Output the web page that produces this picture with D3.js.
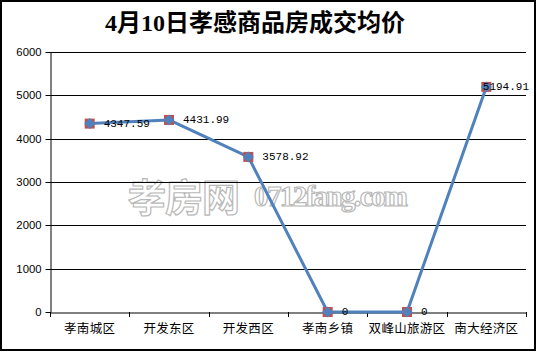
<!DOCTYPE html>
<html><head><meta charset="utf-8">
<script src="https://cdn.jsdelivr.net/npm/d3@7"></script>
<style>body{margin:0;background:#fff}svg{display:block}</style>
</head><body>
<svg id="c" width="537" height="352"></svg>
<script>
const title = "4月10日孝感商品房成交均价";
const categories = ["孝南城区","开发东区","开发西区","孝南乡镇","双峰山旅游区","南大经济区"];
const values = [4347.59, 4431.99, 3578.92, 0, 0, 5194.91];
const labels = ["4347.59","4431.99","3578.92","0","0","5194.91"];
const yTicks = [0,1000,2000,3000,4000,5000,6000];

const svg = d3.select("#c");
const W = 537, H = 352;
const m = {l:50, r:526, t:52, b:312};

svg.append("rect").attr("x",1).attr("y",1).attr("width",534).attr("height",349)
  .attr("fill","#fff").attr("stroke","#000").attr("stroke-width",2);

svg.append("text").attr("x",255).attr("y",31).attr("text-anchor","middle")
  .attr("font-family","'Liberation Serif','Noto Sans CJK SC',serif")
  .attr("font-weight","bold").attr("font-size",24).attr("fill","#000").text(title);

const x = d3.scaleBand().domain(categories).range([m.l, m.r]);
const y = d3.scaleLinear().domain([0,6000]).range([m.b, m.t]);

// watermark
const wm = svg.append("g").attr("fill","#fff").attr("stroke","#b8b8b8").attr("stroke-width",1.2);
wm.append("text").attr("x",128).attr("y",211).attr("font-family","'Noto Sans CJK SC',sans-serif")
  .attr("font-weight","bold").attr("font-size",38).attr("letter-spacing",-1).text("孝房网");
wm.append("text").attr("x",254).attr("y",206).attr("font-family","'Liberation Serif',serif")
  .attr("font-weight","bold").attr("font-size",29).attr("textLength",154).text("0712fang.com");

// grid
svg.append("g").selectAll("line").data(yTicks.filter(d=>d>0)).join("line")
  .attr("x1",m.l).attr("x2",m.r).attr("y1",d=>Math.round(y(d))+0.5).attr("y2",d=>Math.round(y(d))+0.5)
  .attr("stroke","#000").attr("stroke-width",1);

// y axis
const ya = svg.append("g").attr("transform",`translate(${m.l+0.5},0)`)
  .call(d3.axisLeft(y).tickValues(yTicks).tickSize(5).tickSizeOuter(0).tickPadding(4).tickFormat(d3.format("d")));
ya.select(".domain").attr("stroke","#000");
ya.selectAll(".tick line").attr("stroke","#000");
ya.selectAll(".tick").attr("transform",d=>`translate(0,${Math.round(y(d))+0.5})`);
ya.selectAll("text").attr("font-family","'Liberation Sans',Arial,sans-serif").attr("font-size",11.3).attr("fill","#000");

// x axis
const xa = svg.append("g").attr("transform",`translate(0,${m.b+0.5})`)
  .call(d3.axisBottom(x).tickSize(0).tickPadding(12));
xa.select(".domain").attr("stroke","#000");
xa.selectAll("text").attr("font-family","'Noto Sans CJK SC',sans-serif").attr("font-size",12.5)
  .attr("letter-spacing",0.3).attr("fill","#000");
const bounds = categories.map(c=>x(c)).concat([m.r]);
svg.append("g").selectAll("line").data(bounds).join("line")
  .attr("x1",d=>Math.round(d)+0.5).attr("x2",d=>Math.round(d)+0.5)
  .attr("y1",m.b).attr("y2",m.b+5).attr("stroke","#000");

// line
const px = c => x(c) + x.bandwidth()/2;
const line = d3.line().x((d,i)=>px(categories[i])).y(d=>y(d));
svg.append("path").datum(values).attr("d",line).attr("fill","none")
  .attr("stroke","#4F81BD").attr("stroke-width",3).attr("stroke-linejoin","round");

// markers
const mk = svg.append("g").selectAll("g").data(values).join("g")
  .attr("transform",(d,i)=>`translate(${px(categories[i])},${y(d)})`);
mk.append("rect").attr("x",-5).attr("y",-5).attr("width",10).attr("height",10).attr("fill","#C0504D");
mk.append("path").attr("d","M0,-5.5L5.5,0L0,5.5L-5.5,0Z").attr("fill","#4F81BD");

// data labels
svg.append("g").selectAll("text").data(values).join("text")
  .attr("font-family","'Liberation Mono','DejaVu Sans Mono',monospace").attr("font-size",11)
  .attr("fill","#000").attr("dominant-baseline","central")
  .attr("y",d=>y(d))
  .text((d,i)=>labels[i])
  .attr("x",function(d,i){
    const w = this.getComputedTextLength();
    return Math.min(px(categories[i]) + 14, 529 - w);
  });
</script>
</body></html>
